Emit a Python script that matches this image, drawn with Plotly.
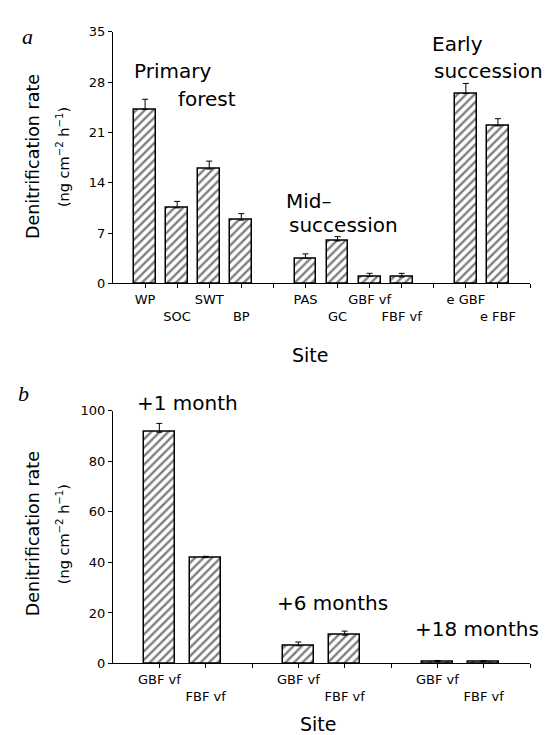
import plotly.graph_objects as go

# Panel a data
a_sites = ["WP", "SOC", "SWT", "BP", "PAS", "GC", "GBF vf", "FBF vf", "e GBF", "e FBF"]
a_pos = [0, 1, 2, 3, 5, 6, 7, 8, 10, 11]
a_gaps = [4, 9, 12]
a_vals = [24.2, 10.5, 15.9, 8.8, 3.5, 5.9, 1.0, 0.9, 26.4, 21.9]
a_err = [1.4, 0.9, 1.1, 0.9, 0.6, 0.6, 0.4, 0.5, 1.4, 1.0]

# Panel b data
b_sites = ["GBF vf", "FBF vf", "GBF vf", "FBF vf", "GBF vf", "FBF vf"]
b_pos = [0, 1, 3, 4, 6, 7]
b_gaps = [2, 5, 8]
b_vals = [91.5, 41.9, 7.0, 11.2, 0.8, 0.7]
b_err = [3.5, 0.5, 1.5, 1.6, 0.4, 0.4]

FONT = "DejaVu Sans"

fig = go.Figure()

def bar(x, y, err, xa, ya):
    return go.Bar(
        x=x, y=y, width=0.68, xaxis=xa, yaxis=ya,
        marker=dict(color="white", line=dict(color="black", width=1.5),
                    pattern=dict(shape="/", fgcolor="black", bgcolor="white", size=6, solidity=0.4)),
        error_y=dict(type="data", array=err, arrayminus=[0]*len(err), symmetric=False,
                     color="black", thickness=1, width=3),
        showlegend=False,
    )

fig.add_trace(bar(a_pos, a_vals, a_err, "x", "y"))
fig.add_trace(bar(b_pos, b_vals, b_err, "x2", "y2"))

def stagger(labels):
    return [l if i % 2 == 0 else "<br>" + l for i, l in enumerate(labels)]

axis_common = dict(showline=True, linecolor="black", linewidth=1, ticks="outside",
                   ticklen=4, tickcolor="black", showgrid=False, zeroline=False,
                   tickfont=dict(family=FONT, size=13, color="black"))

minor_common = dict(ticks="outside", ticklen=4, tickcolor="black", showgrid=False)

fig.update_layout(
    width=552, height=735,
    margin=dict(l=0, r=0, t=0, b=0),
    plot_bgcolor="white", paper_bgcolor="white",
    bargap=0,
    xaxis=dict(domain=[105/552, 522/552], range=[-1, 12], anchor="y", tickangle=0,
               tickvals=a_pos, ticktext=stagger(a_sites),
               minor=dict(tickvals=a_gaps, **minor_common), **axis_common),
    yaxis=dict(domain=[1-274/735, 1-17/735], range=[0, 35], anchor="x",
               tickvals=[0, 7, 14, 21, 28, 35], **axis_common),
    xaxis2=dict(domain=[105/552, 522/552], range=[-1, 8], anchor="y2", tickangle=0,
                tickvals=b_pos, ticktext=stagger(b_sites),
                minor=dict(tickvals=b_gaps, **minor_common), **axis_common),
    yaxis2=dict(domain=[1-662/735, 1-404/735], range=[0, 100], anchor="x2",
                tickvals=[0, 20, 40, 60, 80, 100], **axis_common),
)

ann = []
def t(x, y, text, size=20, rot=0, fam=FONT, xanchor="left"):
    ann.append(dict(x=x/552, y=1-y/735, xref="paper", yref="paper", text=text, showarrow=False,
                    font=dict(family=fam, size=size, color="black"), textangle=rot,
                    xanchor=xanchor, yanchor="middle"))

t(12, 22, "<i>a</i>", 22, fam="Liberation Serif")
t(8, 386, "<i>b</i>", 22, fam="Liberation Serif")
t(124, 57, "Primary")
t(168, 86, "forest")
t(276, 190, "Mid–")
t(279, 214, "succession")
t(422, 30, "Early")
t(424, 57, "succession")
t(127, 396, "+1 month")
t(267, 600, "+6 months")
t(405, 627, "+18 months")
t(302, 347, "Site", 19, xanchor="center")
t(310, 724, "Site", 19, xanchor="center")
t(25, 145, "Denitrification rate", 17.5, -90, xanchor="center")
t(55, 145, "(ng cm<sup>−2</sup> h<sup>−1</sup>)", 14.5, -90, xanchor="center")
t(25, 530, "Denitrification rate", 17.5, -90, xanchor="center")
t(55, 530, "(ng cm<sup>−2</sup> h<sup>−1</sup>)", 14.5, -90, xanchor="center")
fig.update_layout(annotations=ann)

fig.write_html("out.html")
